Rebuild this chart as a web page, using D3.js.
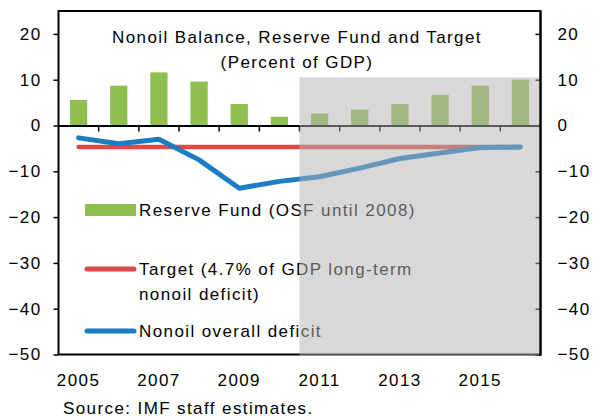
<!DOCTYPE html>
<html lang="en">
<head>
<meta charset="UTF-8">
<title>Nonoil Balance, Reserve Fund and Target</title>
<style>
    body { margin: 0; background: #fff; }
    svg { display: block; }
    text {
        font-family: "Liberation Sans", Arial, sans-serif;
        font-size: 17px;
        letter-spacing: 1.4px;
        fill: #000;
    }
</style>
</head>
<body>
<svg width="597" height="420"></svg>
<script src="https://d3js.org/d3.v7.min.js"></script>
<script>
    // values, percent of GDP
    const years = [2005, 2006, 2007, 2008, 2009, 2010, 2011, 2012, 2013, 2014, 2015, 2016];
    const reserveFund = [5.6, 8.7, 11.6, 9.6, 4.7, 1.9, 2.6, 3.5, 4.7, 6.7, 8.7, 10.0];
    const target = [-4.7, -4.7, -4.7, -4.7, -4.7, -4.7, -4.7, -4.7, -4.7, -4.7, -4.7, -4.7];
    const nonoilDeficit = [-2.7, -4.0, -3.0, -7.5, -13.7, -12.2, -11.2, -9.3, -7.2, -6.0, -4.8, -4.7];
    const yTicks = [20, 10, 0, -10, -20, -30, -40, -50];
    const xLabels = [2005, 2007, 2009, 2011, 2013, 2015];
    const projectionStart = 2011;
    const shadeTop = 10.5;

    const svg = d3.select('svg');
    const plotLeft = 58.5, plotRight = 540.5, plotTop = 11, plotBottom = 354.5;

    const x = d3.scaleBand().domain(years).range([plotLeft, plotRight]);
    const y = d3.scaleLinear().domain([-50, 25]).range([plotBottom, plotTop]);

    const green = '#8fbf4f', red = '#df4a47', blue = '#1b7dc2';

    // frame
    svg.append('rect')
        .attr('x', plotLeft).attr('y', plotTop)
        .attr('width', plotRight - plotLeft).attr('height', plotBottom - plotTop)
        .attr('fill', 'none').attr('stroke', '#000').attr('stroke-width', 2);

    // left axis
    const yAxisL = svg.append('g').attr('transform', `translate(${plotLeft},0)`)
        .call(d3.axisLeft(y).tickValues(yTicks).tickSize(5).tickPadding(12));
    yAxisL.select('.domain').remove();
    yAxisL.selectAll('line').attr('stroke', '#000').attr('stroke-width', 1.5);
    yAxisL.selectAll('text').style('font-size', '17px').style('font-family', null);

    // right axis, ticks pointing inwards
    const yAxisR = svg.append('g').attr('transform', `translate(${plotRight},0)`)
        .call(d3.axisRight(y).tickValues(yTicks).tickSize(-5).tickPadding(17));
    yAxisR.select('.domain').remove();
    yAxisR.selectAll('line').attr('stroke', '#000').attr('stroke-width', 1.5);
    yAxisR.selectAll('text').style('font-size', '17px').style('font-family', null);

    // bars
    const barW = x.bandwidth() * 0.43;
    svg.append('g').selectAll('rect').data(years).enter().append('rect')
        .attr('x', (d) => x(d) + (x.bandwidth() - barW) / 2)
        .attr('width', barW)
        .attr('y', (d, i) => y(reserveFund[i]))
        .attr('height', (d, i) => y(0) - y(reserveFund[i]))
        .attr('fill', green);

    // zero line with category ticks hanging below
    const xAxis = svg.append('g').attr('transform', `translate(0,${y(0)})`)
        .call(d3.axisBottom(x).tickSize(0).tickFormat(''));
    xAxis.select('.domain').attr('stroke', '#000').attr('stroke-width', 2);
    svg.append('g').selectAll('line').data(years.slice(1)).enter().append('line')
        .attr('x1', (d) => x(d)).attr('x2', (d) => x(d))
        .attr('y1', y(0)).attr('y2', y(0) + 6)
        .attr('stroke', '#000').attr('stroke-width', 1.5);

    // lines
    const cx = (d) => x(d) + x.bandwidth() / 2;
    const line = d3.line().x((d) => cx(d[0])).y((d) => y(d[1]));
    svg.append('path')
        .attr('d', line(years.map((d, i) => [d, target[i]])))
        .attr('fill', 'none').attr('stroke', red).attr('stroke-width', 4.5)
        .attr('stroke-linecap', 'round');
    svg.append('path')
        .attr('d', line(years.map((d, i) => [d, nonoilDeficit[i]])))
        .attr('fill', 'none').attr('stroke', blue).attr('stroke-width', 5)
        .attr('stroke-linecap', 'round').attr('stroke-linejoin', 'round');

    // legend
    const lg = svg.append('g');
    lg.append('rect').attr('x', 85).attr('y', 204).attr('width', 51).attr('height', 12).attr('fill', green);
    lg.append('text').attr('x', 139).attr('y', 216).text('Reserve Fund (OSF until 2008)');
    lg.append('line').attr('x1', 87).attr('x2', 134).attr('y1', 269).attr('y2', 269)
        .attr('stroke', red).attr('stroke-width', 5).attr('stroke-linecap', 'round');
    lg.append('text').attr('x', 139).attr('y', 275).text('Target (4.7% of GDP long-term');
    lg.append('text').attr('x', 139).attr('y', 300).text('nonoil deficit)');
    lg.append('line').attr('x1', 87).attr('x2', 134).attr('y1', 331).attr('y2', 331)
        .attr('stroke', blue).attr('stroke-width', 5).attr('stroke-linecap', 'round');
    lg.append('text').attr('x', 139).attr('y', 337).text('Nonoil overall deficit');

    // title
    svg.append('text').attr('x', 297).attr('y', 43).attr('text-anchor', 'middle')
        .text('Nonoil  Balance, Reserve Fund and Target');
    svg.append('text').attr('x', 297).attr('y', 68).attr('text-anchor', 'middle')
        .text('(Percent of GDP)');

    // projection shading laid over everything inside the frame
    svg.append('rect')
        .attr('x', x(projectionStart))
        .attr('y', y(shadeTop))
        .attr('width', plotRight - 1 - x(projectionStart))
        .attr('height', plotBottom + 1 - y(shadeTop))
        .attr('fill', '#b2b2b2').attr('fill-opacity', 0.5);
    svg.append('line')
        .attr('x1', plotRight).attr('x2', plotRight).attr('y1', plotTop).attr('y2', plotBottom + 1)
        .attr('stroke', '#000').attr('stroke-width', 2);

    // year labels
    svg.append('g').selectAll('text').data(xLabels).enter().append('text')
        .attr('x', (d) => cx(d)).attr('y', 386).attr('text-anchor', 'middle')
        .text((d) => d);

    svg.append('text').attr('x', 63).attr('y', 414).text('Source: IMF staff estimates.');
</script>
</body>
</html>
